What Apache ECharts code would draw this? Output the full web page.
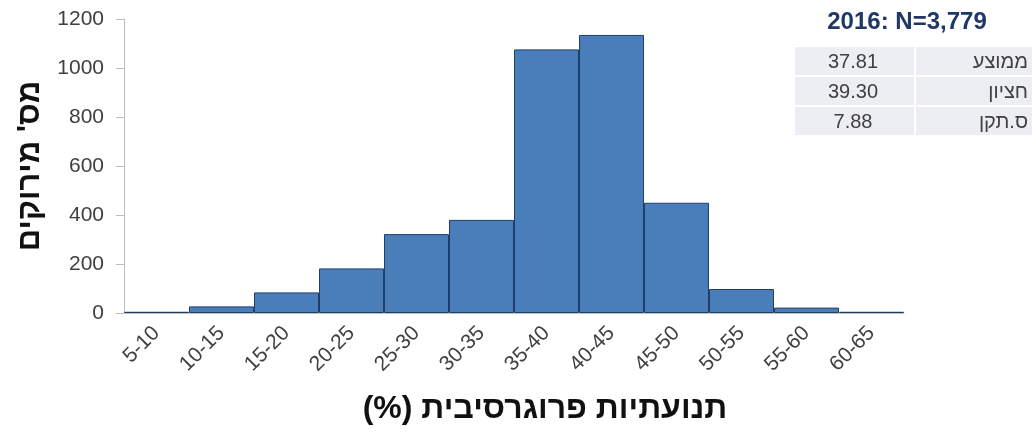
<!DOCTYPE html>
<html>
<head>
<meta charset="utf-8">
<script src="https://cdn.jsdelivr.net/npm/echarts@6/dist/echarts.min.js"></script>
<style>
  html, body { margin: 0; padding: 0; background: #fff; }
  #chart { width: 1036px; height: 432px; }
</style>
</head>
<body>
<div id="chart"></div>
<script>
const bins = ["5-10", "10-15", "15-20", "20-25", "25-30", "30-35", "35-40", "40-45", "45-50", "50-55", "55-60", "60-65"];
const counts = [5, 27, 84, 182, 322, 380, 1076, 1135, 450, 98, 22, 5];
const yTicks = [0, 200, 400, 600, 800, 1000, 1200];

const tableTitle = "2016: N=3,779";
const statLabels = ["ממוצע", "חציון", "ס.תקן"];
const statValues = ["37.81", "39.30", "7.88"];

const yTitle = "מס' מירוקים";
const xTitle = "תנועתיות פרוגרסיבית (%)\u200F";

const FONT = '"Liberation Sans", Arial, sans-serif';
const chart = echarts.init(document.getElementById("chart"));

// stats box in the top right corner
const tableGraphics = [
  {
    type: "text",
    x: 907,
    y: 22,
    style: { text: tableTitle, font: "bold 24px " + FONT, fill: "#1f3864", align: "center", verticalAlign: "middle" }
  }
];
statLabels.forEach((label, i) => {
  const top = 47 + i * 30;
  tableGraphics.push(
    { type: "rect", shape: { x: 795, y: top, width: 119, height: 28 }, style: { fill: "#eceef3" } },
    { type: "rect", shape: { x: 916, y: top, width: 116, height: 28 }, style: { fill: "#eceef3" } },
    {
      type: "text", x: 853, y: top + 15,
      style: { text: statValues[i], font: "20px " + FONT, fill: "#404040", align: "center", verticalAlign: "middle" }
    },
    {
      type: "text", x: 1028, y: top + 15,
      style: { text: label, font: "20px " + FONT, fill: "#404040", align: "right", verticalAlign: "middle" }
    }
  );
});
tableGraphics.push({
  type: "text", x: 545, y: 409,
  style: { text: xTitle, font: "bold 32px " + FONT, fill: "#111", align: "center", verticalAlign: "middle" }
});

chart.setOption({
  animation: false,
  grid: { left: 124, right: 132, top: 19, bottom: 119 },
  xAxis: {
    type: "category",
    data: bins,
    axisLine: { lineStyle: { color: "#bfbfbf" } },
    axisTick: { length: 9, lineStyle: { color: "#bfbfbf" } },
    axisLabel: { rotate: 45, fontSize: 21, fontFamily: FONT, color: "#404040", margin: 17, interval: 0 }
  },
  yAxis: {
    type: "value",
    min: yTicks[0],
    max: yTicks[yTicks.length - 1],
    interval: 200,
    name: yTitle,
    nameLocation: "middle",
    nameGap: 58,
    nameTextStyle: { fontSize: 31, fontWeight: "bold", fontFamily: FONT, color: "#111" },
    splitLine: { show: false },
    axisLine: { show: true, lineStyle: { color: "#bfbfbf" } },
    axisTick: { show: true, length: 8, lineStyle: { color: "#bfbfbf" } },
    axisLabel: { fontSize: 21, fontFamily: FONT, color: "#404040", margin: 20, formatter: (v) => String(v) }
  },
  series: [
    {
      type: "bar",
      data: counts,
      barCategoryGap: "0%",
      itemStyle: { color: "#4a7ebb", borderColor: "#1f3f6a", borderWidth: 1 }
    }
  ],
  graphic: tableGraphics
});
</script>
</body>
</html>
